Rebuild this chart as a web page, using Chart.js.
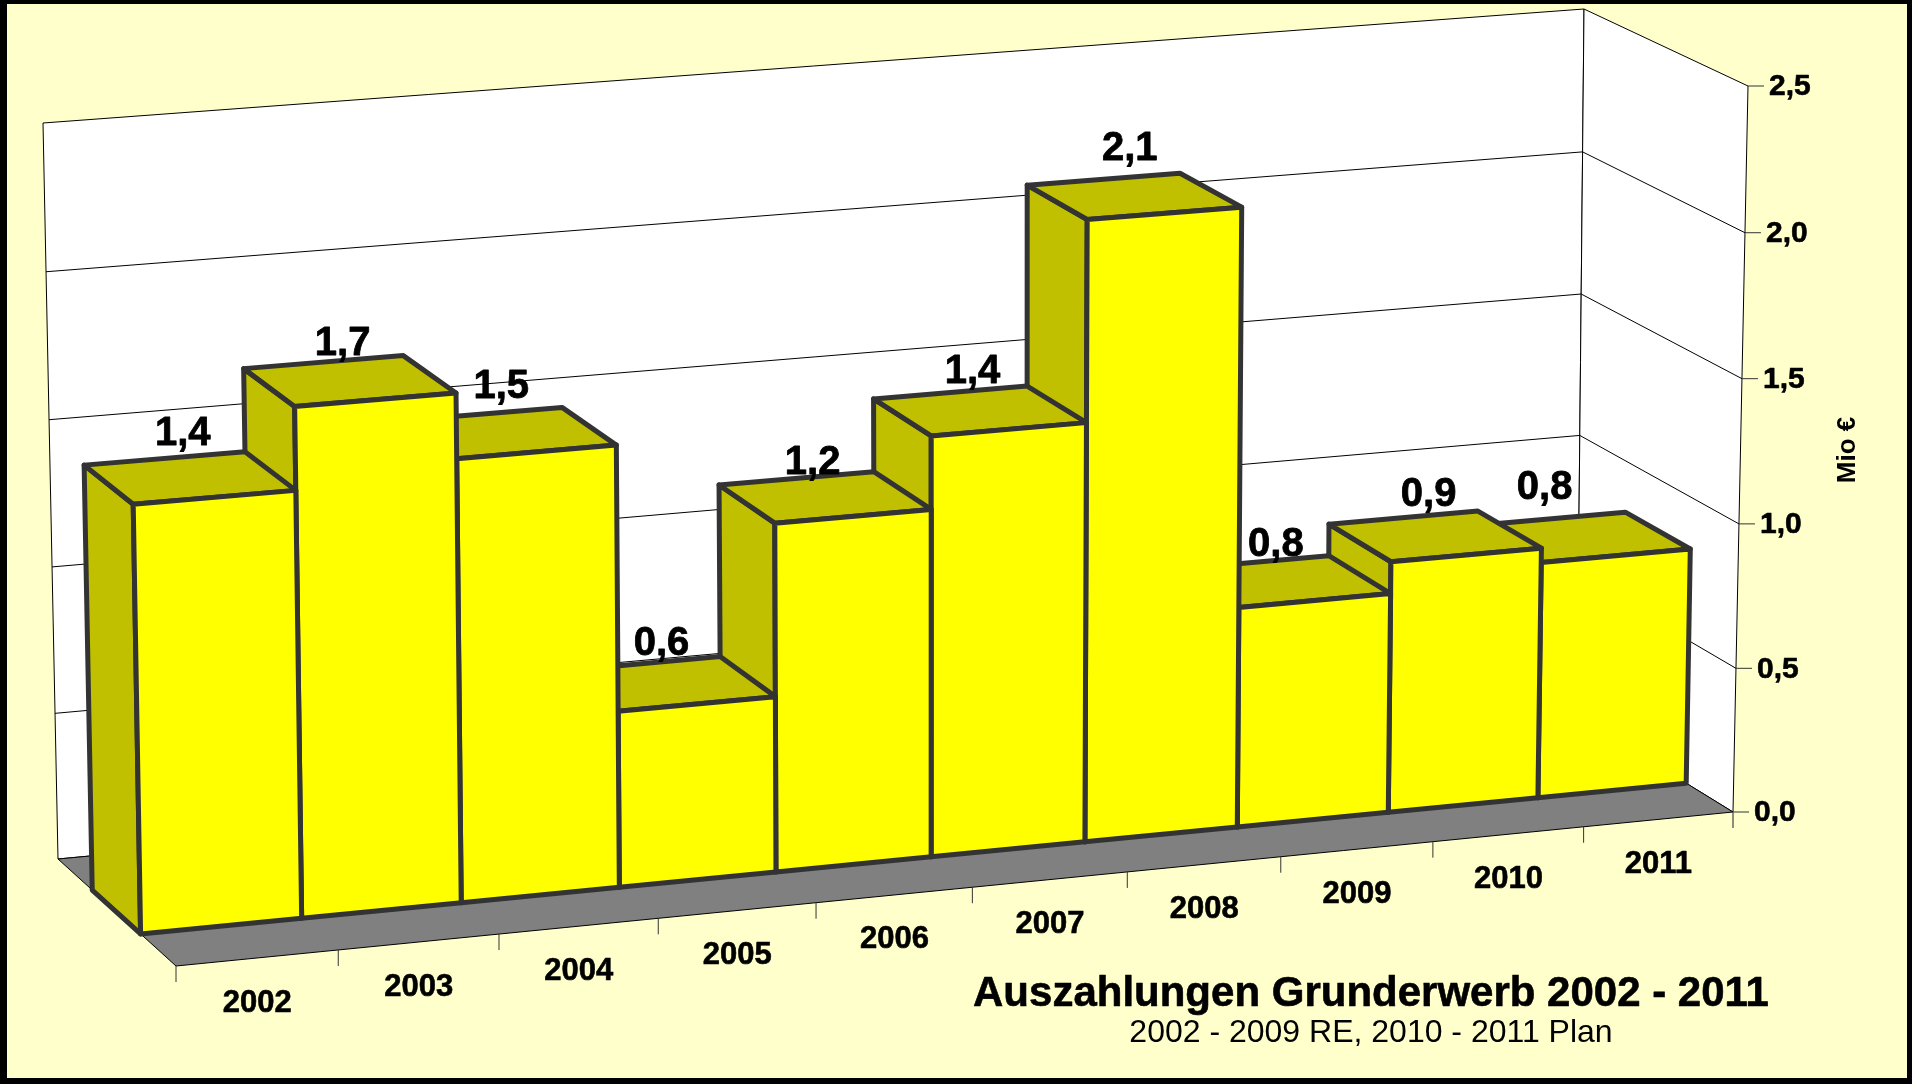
<!DOCTYPE html>
<html><head><meta charset="utf-8">
<style>html,body{margin:0;padding:0;background:#ffffcc;overflow:hidden}canvas{display:block}</style>
<script src="https://cdn.jsdelivr.net/npm/chart.js@4/dist/chart.umd.js"></script>
</head><body><canvas id="c" width="1912" height="1084"></canvas>
<script>
const years = ['2002','2003','2004','2005','2006','2007','2008','2009','2010','2011'];
const payouts = [1.44,1.72,1.50,0.60,1.19,1.44,2.13,0.76,0.87,0.82];
const yTicks = [0,0.5,1,1.5,2,2.5];
const titleText = 'Auszahlungen Grunderwerb 2002 - 2011';
const subtitleText = '2002 - 2009 RE, 2010 - 2011 Plan';
const axisTitle = 'Mio €';

// Projection of the chart's flat plot box into the picture: eight box corners
const box = {
  fbl:[176,966], fbr:[1733,812], fbt:[164,210], frt:[1748,86],
  bbl:[58,859],  bbr:[1577,716], btl:[43,123],  btr:[1584,9]
};
const persp = 1.047, perspV = 0.987, wFront = 0.30, wBack = 0.71;
// small hand placement of each value label relative to its bar top
const labelNudgeX = [-2,-1,-2,-1,-4,2,6,2,5,-27];
const labelNudgeY = [3,9,0,7,12,6,-3,10,4,-4];
const FONT = '"Liberation Sans", Arial, sans-serif';
const fmt = v => v.toFixed(1).replace('.',',');
const lerp=(a,b,t)=>[a[0]+(b[0]-a[0])*t,a[1]+(b[1]-a[1])*t];
function P(u,v,w){
  const k = persp*u/(1+(persp-1)*u);
  const h = perspV*v/(1+(perspV-1)*v);
  const fb=lerp(box.fbl,box.fbr,k), ft=lerp(box.fbt,box.frt,k);
  const bb=lerp(box.bbl,box.bbr,k), bt=lerp(box.btl,box.btr,k);
  return lerp(lerp(fb,ft,h),lerp(bb,bt,h),w);
}
function poly(ctx,pts,fill,stroke,lw){
  ctx.beginPath();pts.forEach((p,i)=>i?ctx.lineTo(p[0],p[1]):ctx.moveTo(p[0],p[1]));ctx.closePath();
  if(fill){ctx.fillStyle=fill;ctx.fill();}
  if(stroke){ctx.strokeStyle=stroke;ctx.lineWidth=lw;ctx.lineJoin='round';ctx.stroke();}
}
function line(ctx,a,b,color,lw){
  ctx.beginPath();ctx.moveTo(a[0],a[1]);ctx.lineTo(b[0],b[1]);ctx.strokeStyle=color||'#000';ctx.lineWidth=lw||1;ctx.stroke();
}
const uOf=(chart,px)=>(px-chart.chartArea.left)/(chart.chartArea.right-chart.chartArea.left);
const vOf=(chart,py)=>(chart.chartArea.bottom-py)/(chart.chartArea.bottom-chart.chartArea.top);

// Bars: same element, drawn as a box through the projection
let activeChart=null;
Chart.BarElement.prototype.draw=function(ctx){
  const c=activeChart, u0=uOf(c,this.x-this.width/2), u1=uOf(c,this.x+this.width/2), v=vOf(c,this.y), b=vOf(c,this.base);
  const o=this.options, side='#c0c000', s=o.borderColor, lw=o.borderWidth;
  poly(ctx,[P(u0,b,wFront),P(u0,v,wFront),P(u0,v,wBack),P(u0,b,wBack)],side,s,lw);
  poly(ctx,[P(u0,v,wFront),P(u1,v,wFront),P(u1,v,wBack),P(u0,v,wBack)],side,s,lw);
  poly(ctx,[P(u0,b,wFront),P(u0,v,wFront),P(u1,v,wFront),P(u1,b,wFront)],o.backgroundColor,s,lw);
};

function heavyText(ctx,t,x,y,extra){
  ctx.fillText(t,x,y);
  ctx.strokeStyle='#000';ctx.lineWidth=extra;ctx.lineJoin='round';ctx.strokeText(t,x,y);
}

const scene={
  id:'scene',
  beforeDraw(chart){
    activeChart=chart;
    const ctx=chart.ctx, {x,y}=chart.scales;
    ctx.save();
    ctx.fillStyle='#000';ctx.fillRect(0,0,1912,1084);
    ctx.fillStyle='#ffffcc';ctx.fillRect(7,4,1900,1074);
    // walls and floor
    poly(ctx,[P(0,0,1),P(0,1,1),P(1,1,1),P(1,0,1)],'#fff','#000',1);
    poly(ctx,[P(1,0,1),P(1,1,1),P(1,1,0),P(1,0,0)],'#fff','#000',1);
    poly(ctx,[P(0,0,0),P(0,0,1),P(1,0,1),P(1,0,0)],'#808080','#000',1);
    yTicks.forEach(t=>{
      const v=vOf(chart,y.getPixelForValue(t));
      if(t>0&&t<2.5){line(ctx,P(0,v,1),P(1,v,1));line(ctx,P(1,v,1),P(1,v,0));}
      const p=P(1,v,0);
      line(ctx,p,[p[0]+16,p[1]],'#333',1);
      ctx.fillStyle='#000';ctx.font='bold 30px '+FONT;ctx.textAlign='left';ctx.textBaseline='middle';
      heavyText(ctx,fmt(t),p[0]+21,p[1]+1,0.6);
    });
    const half=(x.getPixelForValue(1)-x.getPixelForValue(0))/2;
    years.forEach((lab,i)=>{
      const px=x.getPixelForValue(i);
      const a=P(uOf(chart,px-half),0,0);
      line(ctx,a,[a[0],a[1]+16],'#333',1);
      const m=P(uOf(chart,px),0,0);
      ctx.fillStyle='#000';ctx.font='bold 31px '+FONT;ctx.textAlign='center';ctx.textBaseline='middle';
      heavyText(ctx,lab,m[0],m[1]+45,0.6);
    });
    const e=P(1,0,0);line(ctx,e,[e[0],e[1]+16],'#666',1.5);
    ctx.restore();
  },
  beforeDatasetDraw(chart,args){
    const ctx=chart.ctx;
    ctx.save();
    args.meta.data.slice().reverse().forEach(el=>el.draw(ctx,chart.chartArea));
    ctx.restore();
    return false;
  },
  afterDatasetsDraw(chart){
    const ctx=chart.ctx;
    ctx.save();
    ctx.fillStyle='#000';ctx.textAlign='center';ctx.textBaseline='middle';
    ctx.font='bold 40px '+FONT;
    chart.getDatasetMeta(0).data.forEach((el,i)=>{
      const p=P(uOf(chart,el.x),vOf(chart,el.y),wBack);
      heavyText(ctx,fmt(payouts[i]),p[0]+20+labelNudgeX[i],p[1]-27+labelNudgeY[i],0.8);
    });
    ctx.font='bold 42px '+FONT;heavyText(ctx,titleText,1371,994,0.6);
    ctx.font='32px '+FONT;ctx.fillText(subtitleText,1371,1033);
    ctx.translate(1848,450);ctx.rotate(-Math.PI/2);
    ctx.font='bold 26px '+FONT;ctx.fillText(axisTitle,0,0);
    ctx.restore();
  }
};

new Chart(document.getElementById('c'),{
  type:'bar',
  data:{labels:years,datasets:[{label:titleText,data:payouts,backgroundColor:'#ffff00',borderColor:'#333333',borderWidth:5,barPercentage:1,categoryPercentage:1}]},
  options:{
    responsive:false,animation:false,devicePixelRatio:1,
    layout:{padding:0},
    plugins:{legend:{display:false},tooltip:{enabled:false},title:{display:false}},
    scales:{
      x:{display:false,offset:true},
      y:{display:false,min:0,max:2.5,ticks:{stepSize:0.5}}
    }
  },
  plugins:[scene]
});
</script></body></html>
